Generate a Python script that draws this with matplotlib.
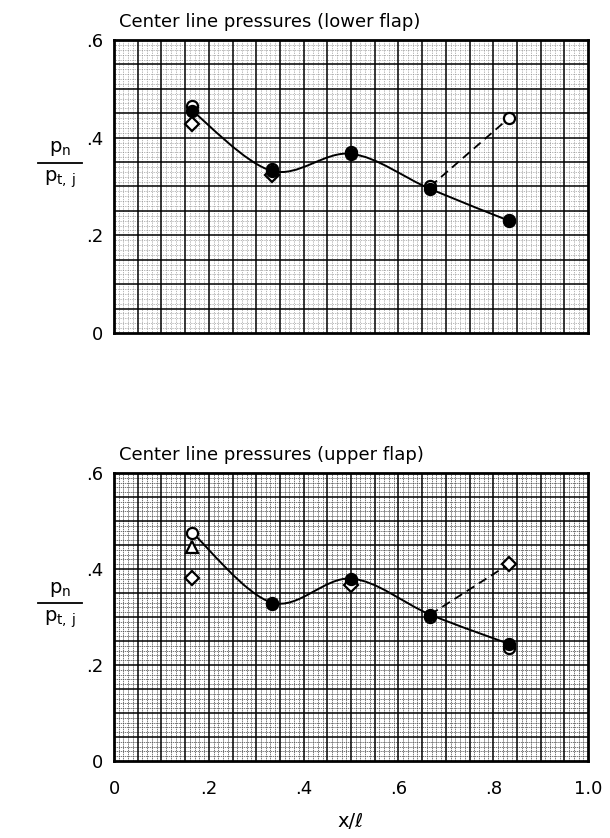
import matplotlib
matplotlib.use("Agg")
import matplotlib.pyplot as plt
import numpy as np
from matplotlib.path import Path
from matplotlib.patches import PathPatch

plt.rcParams['font.family'] = ['DejaVu Sans']

# ---------------- data ----------------
x_stations = [0.165, 0.333, 0.5, 0.667, 0.833]

# lower flap (top panel)
low_open_y = [0.465, 0.336, 0.370, 0.300, 0.440]
low_filled_y = [0.455, 0.332, 0.367, 0.295, 0.230]
low_diamond_x = [0.165, 0.333]
low_diamond_y = [0.428, 0.323]
low_open2_x = [0.833]
low_open2_y = [0.232]

# upper flap (bottom panel)
up_open_y = [0.476, 0.328, 0.372, 0.300, 0.236]
up_filled_x = [0.333, 0.5, 0.667, 0.833]
up_filled_y = [0.330, 0.380, 0.305, 0.244]
up_tri_x = [0.165]
up_tri_y = [0.445]
up_diamond_x = [0.165, 0.5, 0.833]
up_diamond_y = [0.382, 0.366, 0.410]

yticks = [0, 0.2, 0.4, 0.6]
ytick_labels = ['0', '.2', '.4', '.6']
xticks = [0, 0.2, 0.4, 0.6, 0.8, 1.0]
xtick_labels = ['0', '.2', '.4', '.6', '.8', '1.0']

W, H = 610, 838
fig = plt.figure(figsize=(W / 100, H / 100), dpi=100)


def px_axes(left, top, right, bottom):
    return fig.add_axes([left / W, 1 - bottom / H, (right - left) / W, (bottom - top) / H])


def smooth_path(xs, ys):
    # Catmull-Rom through points -> cubic Bezier segments
    pts = np.column_stack([xs, ys])
    verts = [tuple(pts[0])]
    codes = [Path.MOVETO]
    n = len(pts)
    for i in range(n - 1):
        p0 = pts[i - 1] if i > 0 else pts[i]
        p1 = pts[i]
        p2 = pts[i + 1]
        p3 = pts[i + 2] if i + 2 < n else pts[i + 1]
        c1 = p1 + (p2 - p0) / 6.0
        c2 = p2 - (p3 - p1) / 6.0
        verts += [tuple(c1), tuple(c2), tuple(p2)]
        codes += [Path.CURVE4] * 3
    return Path(verts, codes)


def grid_panel(ax, dense):
    ax.set_xlim(0, 1.0)
    ax.set_ylim(0, 0.6)
    col = '#444444' if dense else '#777777'
    ls = (0, (2, 1)) if dense else (0, (1, 1.5))
    for v in np.arange(0.01, 1.0, 0.01):
        if abs(v / 0.05 - round(v / 0.05)) > 1e-6:
            ax.axvline(v, color=col, lw=0.5, ls=ls, zorder=1)
    for v in np.arange(0.01, 0.6, 0.01):
        if abs(v / 0.05 - round(v / 0.05)) > 1e-6:
            ax.axhline(v, color=col, lw=0.5, ls=ls, zorder=1)
    for v in np.arange(0.05, 1.0, 0.05):
        ax.axvline(v, color='black', lw=1.1, zorder=2)
    for v in np.arange(0.05, 0.6, 0.05):
        ax.axhline(v, color='black', lw=1.1, zorder=2)
    for s in ax.spines.values():
        s.set_linewidth(2.0)
    ax.set_yticks(yticks)
    ax.set_yticklabels(ytick_labels, fontsize=13)
    ax.tick_params(length=0, pad=8)


def frac_label(ycenter):
    fig.text(60 / W, 1 - (ycenter - 14) / H, r'$\mathregular{p_n}$', fontsize=14,
             ha='center', va='center')
    fig.text(60 / W, 1 - (ycenter + 16) / H, r'$\mathregular{p_{t,\,j}}$', fontsize=14,
             ha='center', va='center')
    fig.add_artist(plt.Line2D([38 / W, 82 / W], [1 - ycenter / H, 1 - ycenter / H],
                              color='black', lw=1.3))


mk = dict(ms=8, mew=1.6, zorder=5, ls='none')

# ---------------- top panel ----------------
ax1 = px_axes(114, 40, 588, 333)
grid_panel(ax1, dense=False)
ax1.set_xticks([])
ax1.add_patch(PathPatch(smooth_path(x_stations, low_filled_y), fill=False, lw=1.4,
                        color='black', zorder=4, transform=ax1.transData))
ax1.plot([x_stations[3], x_stations[4]], [low_open_y[3], low_open_y[4]], color='black',
         lw=1.3, ls=(0, (5, 3)), zorder=4)
ax1.plot(x_stations, low_open_y, marker='o', mfc='white', mec='black', **mk)
ax1.plot(low_diamond_x, low_diamond_y, marker='D', mfc='white', mec='black', ms=7, mew=1.6,
         zorder=5, ls='none')
ax1.plot(low_open2_x, low_open2_y, marker='o', mfc='white', mec='black', **mk)
ax1.plot(x_stations, low_filled_y, marker='o', mfc='black', mec='black', **mk)
ax1.text(0.01, 1.03, 'Center line pressures (lower flap)', transform=ax1.transAxes,
         fontsize=13, ha='left', va='bottom')
frac_label(163)

# ---------------- bottom panel ----------------
ax2 = px_axes(114, 473, 588, 761)
grid_panel(ax2, dense=True)
ax2.set_xticks(xticks)
ax2.set_xticklabels(xtick_labels, fontsize=13)
ax2.tick_params(axis='x', pad=14)
ax2.set_xlabel('x/ℓ', fontsize=14, labelpad=10)
up_line_y = [up_open_y[0]] + up_filled_y
ax2.add_patch(PathPatch(smooth_path(x_stations, up_line_y), fill=False, lw=1.4,
                        color='black', zorder=4, transform=ax2.transData))
ax2.plot([x_stations[3], up_diamond_x[2]], [up_filled_y[2], up_diamond_y[2]], color='black',
         lw=1.3, ls=(0, (5, 3)), zorder=4)
ax2.plot(x_stations, up_open_y, marker='o', mfc='white', mec='black', **mk)
ax2.plot(up_tri_x, up_tri_y, marker='^', mfc='white', mec='black', **mk)
ax2.plot(up_diamond_x, up_diamond_y, marker='D', mfc='white', mec='black', ms=7, mew=1.6,
         zorder=5, ls='none')
ax2.plot(up_filled_x, up_filled_y, marker='o', mfc='black', mec='black', **mk)
ax2.text(0.01, 1.03, 'Center line pressures (upper flap)', transform=ax2.transAxes,
         fontsize=13, ha='left', va='bottom')
frac_label(603)

fig.savefig('out.png', dpi=100)
